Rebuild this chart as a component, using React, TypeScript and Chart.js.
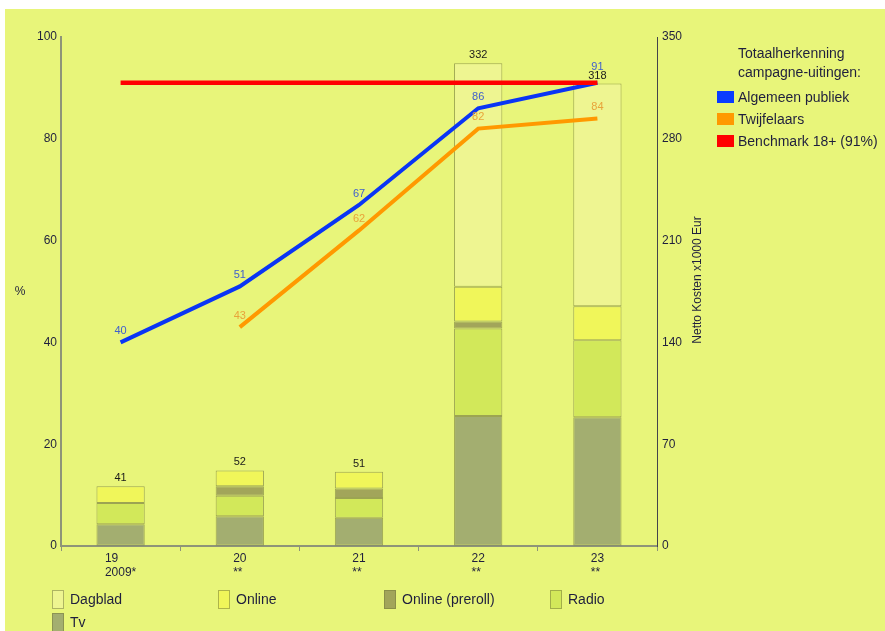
import React, { useEffect, useRef } from 'react';
import { Chart, registerables } from 'chart.js';

Chart.register(...registerables);

// ---- data ----
const categories: string[][] = [['19', '2009*'], ['20', '**'], ['21', '**'], ['22', '**'], ['23', '**']];
const tv = [15, 20.5, 19.5, 89.4, 88.5];
const radio = [14.5, 14, 13.5, 60.1, 53];
const preroll = [null, 6.5, 6.5, 4.8, null];
const online = [11.5, 11, 11.5, 24, 23.3];
const dagblad = [null, null, null, 153.7, 153.2];
const barTotals = [41, 52, 51, 332, 318];
const algemeen = [40, 51, 67, 86, 91];
const twijfelaars = [null, 43, 62, 82, 84];
const benchmark = [91, 91, 91, 91, 91];

const FONT = '"Liberation Sans", Arial, sans-serif';
const TEXT = '#1f1f3d';
const BAR_BORDER = 'rgba(105,110,55,0.6)';

const C_TV = '#a3ae70';
const C_RADIO = '#d2e85a';
const C_PREROLL = '#a2a55a';
const C_ONLINE = '#f0f65a';
const C_DAGBLAD = '#eef591';
const C_BLUE = '#0a35f5';
const C_ORANGE = '#ff9900';
const C_RED = '#ff0000';

const textPlugin = {
  id: 'texts',
  afterDatasetsDraw(chart: any) {
    const ctx = chart.ctx;
    const xs = chart.scales.x;
    const y1 = chart.scales.y1;
    const area = chart.chartArea;
    ctx.save();
    ctx.textBaseline = 'middle';
    ctx.textAlign = 'center';
    // bar totals
    ctx.font = '11px ' + FONT;
    ctx.fillStyle = '#1a1a1a';
    const totalY: number[] = [];
    barTotals.forEach((t, i) => {
      const x = xs.getPixelForValue(i);
      const y = y1.getPixelForValue(t) - 8;
      totalY.push(y);
      ctx.fillText(String(t), x, y);
    });
    // line value labels
    const specs = [
      { idx: 5, color: '#4060cc', data: algemeen },
      { idx: 6, color: '#e8a43a', data: twijfelaars },
    ];
    specs.forEach((s) => {
      const meta = chart.getDatasetMeta(s.idx);
      ctx.fillStyle = s.color;
      s.data.forEach((v, i) => {
        if (v === null) return;
        const el = meta.data[i];
        let y = el.y - 11.5;
        if (Math.abs(y - totalY[i]) < 9) y = totalY[i] - 9;
        ctx.fillText(String(v), el.x, y);
      });
    });
    // x labels (left-aligned lines, block centred on category)
    ctx.font = '12px ' + FONT;
    ctx.fillStyle = TEXT;
    ctx.textAlign = 'left';
    categories.forEach((lines, i) => {
      const x = xs.getPixelForValue(i);
      const w = Math.max(...lines.map((l) => ctx.measureText(l).width));
      lines.forEach((l, k) => {
        ctx.fillText(l, x - w / 2, area.bottom + 12.7 + k * 14);
      });
    });
    // axis titles
    ctx.textAlign = 'center';
    ctx.fillText('%', area.left - 41, (area.top + area.bottom) / 2);
    ctx.translate(area.right + 41, area.top + 243);
    ctx.rotate(-Math.PI / 2);
    ctx.fillText('Netto Kosten x1000 Eur', 0, 0);
    ctx.restore();
  },
};

function barDs(label: string, data: (number | null)[], color: string) {
  return {
    type: 'bar' as const,
    label,
    data,
    yAxisID: 'y1',
    stack: 's',
    backgroundColor: color,
    borderColor: BAR_BORDER,
    borderWidth: 1,
    borderSkipped: false,
    categoryPercentage: 1,
    barPercentage: 0.405,
    order: 10,
  };
}

function lineDs(label: string, data: (number | null)[], color: string, order: number, width: number) {
  return {
    type: 'line' as const,
    label,
    data,
    yAxisID: 'y',
    borderColor: color,
    backgroundColor: color,
    borderWidth: width,
    pointRadius: 0,
    tension: 0,
    fill: false,
    spanGaps: false,
    order,
  };
}

export default function App() {
  const ref = useRef<HTMLCanvasElement | null>(null);

  useEffect(() => {
    if (!ref.current) return;
    const chart = new Chart(ref.current, {
      type: 'bar',
      data: {
        labels: categories.map((c) => c.join(' ')),
        datasets: [
          barDs('Tv', tv, C_TV),
          barDs('Radio', radio, C_RADIO),
          barDs('Online (preroll)', preroll, C_PREROLL),
          barDs('Online', online, C_ONLINE),
          barDs('Dagblad', dagblad, C_DAGBLAD),
          lineDs('Algemeen publiek', algemeen, C_BLUE, 2, 4),
          lineDs('Twijfelaars', twijfelaars, C_ORANGE, 3, 4),
          lineDs('Benchmark 18+ (91%)', benchmark, C_RED, 1, 4.5),
        ] as any,
      },
      options: {
        animation: false,
        responsive: false,
        devicePixelRatio: 1,
        layout: { padding: { left: 0, right: 178, top: 28, bottom: 45 } },
        plugins: { legend: { display: false }, tooltip: { enabled: false }, title: { display: false } },
        scales: {
          x: {
            type: 'category',
            stacked: true,
            offset: true,
            grid: { display: true, drawOnChartArea: false, drawTicks: true, tickLength: 5, color: '#8e9478', offset: true },
            border: { display: true, color: '#8e9478', width: 2 },
            ticks: { display: false },
            afterFit: (s: any) => { s.height = 40; },
          },
          y: {
            type: 'linear',
            position: 'left',
            min: 0,
            max: 100,
            stacked: false,
            ticks: { stepSize: 20, font: { size: 12, family: FONT }, color: TEXT, padding: 4 },
            grid: { display: true, drawOnChartArea: false, drawTicks: false, color: '#8e9478' },
            border: { display: true, color: '#8e9478', width: 2 },
            afterFit: (s: any) => { s.width = 56; },
          },
          y1: {
            type: 'linear',
            position: 'right',
            min: 0,
            max: 350,
            stacked: true,
            ticks: { stepSize: 70, font: { size: 12, family: FONT }, color: TEXT, padding: 5 },
            grid: { display: true, drawOnChartArea: false, drawTicks: false, color: '#44444a' },
            border: { display: true, color: '#44444a', width: 1 },
            afterFit: (s: any) => { s.width = 50; },
          },
        },
      } as any,
      plugins: [textPlugin],
    });
    return () => chart.destroy();
  }, []);

  const rightItems = [
    { label: 'Algemeen publiek', color: '#0a3cff' },
    { label: 'Twijfelaars', color: '#ff9900' },
    { label: 'Benchmark 18+ (91%)', color: '#ff0000' },
  ];
  const bottomItems = [
    { label: 'Dagblad', color: C_DAGBLAD, x: 52, y: 599 },
    { label: 'Online', color: C_ONLINE, x: 218, y: 599 },
    { label: 'Online (preroll)', color: C_PREROLL, x: 384, y: 599 },
    { label: 'Radio', color: C_RADIO, x: 550, y: 599 },
    { label: 'Tv', color: C_TV, x: 52, y: 622 },
  ];

  return (
    <div style={{ position: 'absolute', left: 0, top: 0, width: 885, height: 631, background: '#ffffff', overflow: 'hidden', fontFamily: FONT }}>
      <div style={{ position: 'absolute', left: 5, top: 9, width: 880, height: 622, background: '#e8f57a' }}>
        <canvas ref={ref} width={880} height={622} style={{ display: 'block', width: 880, height: 622 }} />
      </div>
      <div style={{ position: 'absolute', left: 738, top: 43.5, fontSize: 14, lineHeight: '19px', color: TEXT }}>
        <div>Totaalherkenning</div>
        <div>campagne-uitingen:</div>
      </div>
      {rightItems.map((it, i) => (
        <React.Fragment key={it.label}>
          <div style={{ position: 'absolute', left: 717, top: 97 + i * 22 - 6, width: 17, height: 12, background: it.color }} />
          <div style={{ position: 'absolute', left: 738, top: 97 + i * 22 - 8, fontSize: 14, lineHeight: '16px', color: TEXT, whiteSpace: 'nowrap' }}>{it.label}</div>
        </React.Fragment>
      ))}
      {bottomItems.map((it) => (
        <React.Fragment key={it.label}>
          <div style={{ position: 'absolute', left: it.x, top: it.y - 9, width: 10, height: 17, background: it.color, border: '1px solid rgba(120,125,60,0.55)' }} />
          <div style={{ position: 'absolute', left: it.x + 18, top: it.y - 8, fontSize: 14, lineHeight: '16px', color: TEXT, whiteSpace: 'nowrap' }}>{it.label}</div>
        </React.Fragment>
      ))}
    </div>
  );
}
